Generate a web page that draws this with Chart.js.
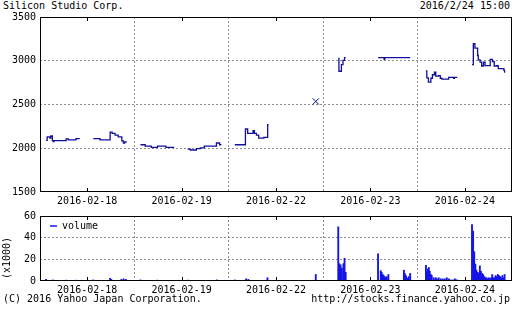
<!DOCTYPE html>
<html><head><meta charset="utf-8">
<script src="https://cdn.jsdelivr.net/npm/chart.js@4.4.1/dist/chart.umd.min.js"></script>
<style>
html,body{margin:0;padding:0;background:#fff;}
body{width:512px;height:310px;position:relative;overflow:hidden;font-family:"DejaVu Sans Mono",monospace;font-size:10px;color:#000;}
.t{position:absolute;white-space:pre;line-height:12px;}
canvas{position:absolute;left:0;}
#price{top:10px;}
#vol{top:210px;}
#unit{left:-14px;top:252px;width:42px;text-align:center;transform:rotate(-90deg);}
</style></head><body>
<div class="t" style="left:3px;top:0px">Silicon Studio Corp.</div>
<div class="t" style="right:2px;top:0px">2016/2/24 15:00</div>
<canvas id="price" width="512" height="200"></canvas>
<canvas id="vol" width="512" height="86"></canvas>
<div class="t" id="unit">(x1000)</div>
<div class="t" style="left:3px;top:293px">(C) 2016 Yahoo Japan Corporation.</div>
<div class="t" style="right:2px;top:293px">http://stocks.finance.yahoo.co.jp</div>
<script>
// ---- data ----
const days = ['2016-02-18','2016-02-19','2016-02-22','2016-02-23','2016-02-24'];
const priceTicks = [1500,2000,2500,3000,3500];
const volTicks = [0,20,40,60];

// price change points (time, price); null = lunch break
const t1 = ['09:00','09:05','09:17','09:21','09:28','09:32','09:35','10:29','10:39','11:13','11:30',null,'12:30','13:00','13:45','13:54','14:07','14:21','14:37','14:44','14:50','15:00'];
const p1 = [2090,2130,2115,2140,2088,2075,2088,2107,2095,2110,2110,null,2110,2095,2185,2170,2150,2130,2085,2060,2072,2072];
const t2 = ['09:00','09:21','09:48','10:16','10:53','11:30',null,'12:30','12:42','13:09','13:26','13:44','14:38','14:52','15:00'];
const p2 = [2040,2025,2010,2025,2010,2010,null,1990,1980,1995,2005,2025,2060,2040,2040];
const t3 = ['09:00','09:47','09:57','10:21','10:27','10:36','10:46','11:09','11:26','11:30'];
const p3 = [2040,2220,2170,2200,2170,2150,2115,2125,2270,2270];
const closeMarkTime = '15:00', closeMarkDay = 2, closeMarkPrice = 2535;
const t4 = ['09:43','09:43','09:54','10:01','10:08','10:13',null,'12:37','13:04','13:07','15:00'];
const p4 = [3035,2880,2955,3005,3035,3035,null,3035,3015,3035,3035];
const t5 = ['09:10','09:14','09:21','09:32','09:39','09:48','09:54','10:06','10:14','10:21','10:51','11:13','11:17','11:30',null,
            '12:35','12:41','12:48','13:00','13:03','13:11','13:18','13:26','13:33','13:56','14:06','14:14','14:25','14:32','14:57','15:00'];
const p5 = [2885,2805,2755,2800,2840,2870,2825,2830,2800,2790,2810,2800,2810,2810,null,
            2955,3195,3145,3060,3010,2985,2940,2985,2945,3015,2990,2940,2945,2910,2890,2862];

// volume (x1000 shares)
const vt1 = ['09:00','09:30','10:30','11:15','12:30','13:45','13:50','14:35','14:45','14:55'];
const vv1 = [1.5,1,0.8,0.8,1,2.5,1.5,1.5,2,1.5];
const vt2 = ['09:00','10:15','12:30','14:40'];
const vv2 = [1,0.8,0.8,1];
const vt3 = ['09:00','09:50','10:00','11:25','15:00'];
const vv3 = [1,2,1.5,3,6];
const vt4 = ['09:40','09:44','09:50','09:56','10:03','10:08','10:13','12:37','12:49','12:53','12:58','13:02','13:07','13:11','13:16','13:23','14:32','14:36','14:41','14:45','14:50','14:54','15:00'];
const vv4 = [50,16,15,12,16,21,8,25,9.5,8,6,5,4,3,4,6,10,7,5,3,2,4,7];
const vt5 = ['09:10','09:14','09:18','09:23','09:27','09:32','09:36','09:45','09:54','09:59','10:07','10:16','10:25','10:34','10:43','10:52','11:01','11:10','11:19','11:28',
             '12:35','12:40','12:45','12:50','12:55','13:00','13:05','13:10','13:15','13:20','13:25','13:30','13:35','13:40','13:45','13:50','13:55','14:00','14:05','14:10','14:15','14:20','14:25','14:30','14:35','14:40','14:45','14:50','14:55','15:00'];
const vv5 = [14.5,8,11,12.5,9,6,5,3,3,2,3,2,2,2,3,2,1,1,2,1,
             52,46,27,15.5,10,8,7,14,9,7,6,4,3,3,2,3,2,3,6,3,3,5,4,6,5,4,3,5,3,6];

// ---- helpers ----
const DAY = 420, OPEN = 27;
function mins(s){ const [h,m] = s.split(':').map(Number); return (h-9)*60+m; }
function xOf(d,s){ return d*DAY + OPEN + mins(s); }
function priceSeries(d, times, vals){
  const out = times.map((t,i) => t === null ? {x: xOf(d,'12:00'), y: null} : {x: xOf(d,t), y: vals[i]});
  out.push({x: d*DAY + DAY - 1, y: null});
  return out;
}
function volSeries(d, times, vals){ return times.map((t,i) => ({x: xOf(d,t), y: vals[i]})); }

const priceData = [].concat(priceSeries(0,t1,p1), priceSeries(1,t2,p2), priceSeries(2,t3,p3), priceSeries(3,t4,p4), priceSeries(4,t5,p5));
const volData = [].concat(volSeries(0,vt1,vv1), volSeries(1,vt2,vv2), volSeries(2,vt3,vv3), volSeries(3,vt4,vv4), volSeries(4,vt5,vv5));

const FONT = '"DejaVu Sans Mono", monospace';
Chart.defaults.font.family = FONT;
Chart.defaults.font.size = 10;
Chart.defaults.color = '#000';
const PRICE_COL = '#10109a', VOL_COL = '#1414e6', GRID_COL = '#8c8c8c';
const XMAX = days.length * DAY;

const frame = {
  id: 'frame',
  afterDatasetsDraw(chart){
    const {ctx, chartArea: a, scales: {x}} = chart;
    ctx.save();
    ctx.strokeStyle = '#000'; ctx.lineWidth = 1;
    const L = Math.round(a.left), T = Math.round(a.top), R = Math.round(a.right), B = Math.round(a.bottom);
    ctx.strokeRect(L + 0.5, T + 0.5, R - L - 1, B - T - 1);
    ctx.beginPath();
    days.forEach((d, i) => {
      const px = Math.round(x.getPixelForValue(i*DAY + DAY/2)) + 0.5;
      ctx.moveTo(px, T); ctx.lineTo(px, T + 4);
      ctx.moveTo(px, B); ctx.lineTo(px, B - 4);
    });
    ctx.stroke();
    ctx.restore();
  }
};
const legendShift = { id: 'legendShift', afterLayout(chart){ const l = chart.legend; if (l) { l.left += 7; l.right += 7; l.top += 8; l.bottom += 8; } } };

function xScale(h){
  return {
    type: 'linear', min: 0, max: XMAX, offset: false,
    afterBuildTicks(s){ s.ticks = []; for (let i = 0; i <= days.length*2; i++) s.ticks.push({value: i*DAY/2}); },
    afterFit(s){ s.height = h; s.paddingLeft = 0; s.paddingRight = 0; },
    ticks: { autoSkip: false, maxRotation: 0, padding: 3,
      callback: v => (v % DAY === DAY/2) ? days[Math.floor(v/DAY)] : '' },
    grid: { drawTicks: false, offset: false,
      color: c => (c.tick && c.tick.value % DAY === 0 && c.tick.value > 0 && c.tick.value < XMAX) ? GRID_COL : 'rgba(0,0,0,0)' },
    border: { display: false, dash: [2,2] }
  };
}
function yScale(min, max, step){
  return {
    min, max,
    afterBuildTicks(s){ s.ticks = []; for (let v = min; v <= max; v += step) s.ticks.push({value: v}); },
    afterFit(s){ s.width = 40; s.paddingTop = 0; s.paddingBottom = 0; },
    ticks: { padding: 4, autoSkip: false, callback: v => String(v) },
    grid: { drawTicks: false,
      color: c => (c.tick && c.tick.value > min && c.tick.value < max) ? GRID_COL : 'rgba(0,0,0,0)' },
    border: { display: false, dash: [2,2] }
  };
}

new Chart(document.getElementById('price'), {
  type: 'line',
  data: { datasets: [
    { data: priceData, borderColor: PRICE_COL, borderWidth: 1.3, stepped: true, pointRadius: 0, spanGaps: false, fill: false },
    { data: [{x: xOf(closeMarkDay, closeMarkTime), y: closeMarkPrice}], showLine: false, pointStyle: 'crossRot', pointRadius: 4.5, borderColor: PRICE_COL, backgroundColor: PRICE_COL, pointBorderWidth: 1 }
  ]},
  options: {
    responsive: false, animation: false, events: [],
    layout: { autoPadding: false, padding: { top: 7, right: 0, left: 0, bottom: 0 } },
    plugins: { legend: { display: false }, tooltip: { enabled: false } },
    scales: { x: xScale(18), y: yScale(priceTicks[0], priceTicks[priceTicks.length-1], 500) }
  },
  plugins: [frame]
});

new Chart(document.getElementById('vol'), {
  type: 'bar',
  data: { datasets: [
    { label: 'volume', data: volData, backgroundColor: VOL_COL, borderWidth: 0, barThickness: 1.2 }
  ]},
  options: {
    responsive: false, animation: false, events: [],
    layout: { autoPadding: false, padding: { top: 6, right: 0, left: 0, bottom: 0 } },
    plugins: {
      tooltip: { enabled: false },
      legend: { position: 'chartArea', align: 'start',
        labels: { usePointStyle: true, pointStyle: 'line', pointStyleWidth: 7, boxHeight: 7, padding: 3, color: '#000',
          font: { family: FONT, size: 10 },
          generateLabels: () => [{ text: 'volume', strokeStyle: VOL_COL, fillStyle: VOL_COL, lineWidth: 1.5, pointStyle: 'line', hidden: false, datasetIndex: 0 }] } }
    },
    scales: { x: xScale(15), y: yScale(volTicks[0], volTicks[volTicks.length-1], 20) }
  },
  plugins: [frame, legendShift]
});
</script>
</body></html>
